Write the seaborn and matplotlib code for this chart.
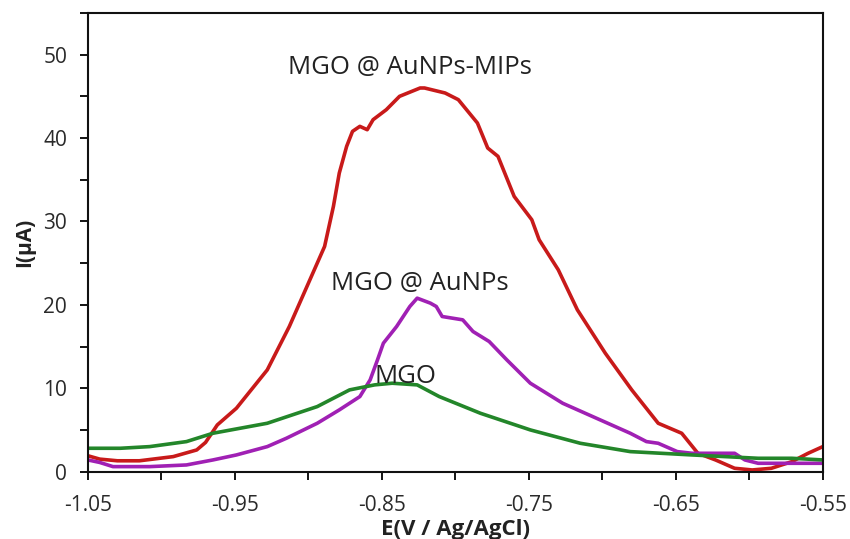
import numpy as np
import pandas as pd
import matplotlib
matplotlib.use("Agg")
import matplotlib.pyplot as plt
from matplotlib.ticker import MultipleLocator, FixedLocator
import seaborn as sns

# Differential pulse voltammograms: potential (V vs Ag/AgCl) and current (µA)
e_mips = [-1.050, -1.042, -1.030, -1.015, -0.992, -0.976, -0.970, -0.962, -0.949,
          -0.928, -0.913, -0.896, -0.889, -0.883, -0.879, -0.874, -0.870, -0.865,
          -0.860, -0.856, -0.847, -0.838, -0.824, -0.821, -0.807, -0.798, -0.785,
          -0.778, -0.771, -0.760, -0.748, -0.743, -0.730, -0.717, -0.698, -0.680,
          -0.662, -0.646, -0.635, -0.623, -0.610, -0.598, -0.585, -0.571, -0.560,
          -0.550]
i_mips = [1.9, 1.5, 1.3, 1.3, 1.8, 2.6, 3.5, 5.6, 7.6,
          12.2, 17.4, 24.2, 27.0, 31.8, 35.8, 39.0, 40.8, 41.4,
          41.0, 42.2, 43.4, 45.0, 46.0, 46.0, 45.4, 44.6, 41.8,
          38.8, 37.8, 33.0, 30.2, 27.8, 24.2, 19.4, 14.2, 9.8,
          5.8, 4.6, 2.2, 1.4, 0.4, 0.2, 0.4, 1.2, 2.2,
          3.0]

e_aunps = [-1.050, -1.042, -1.033, -1.008, -0.983, -0.965, -0.949, -0.928, -0.915,
           -0.894, -0.879, -0.865, -0.858, -0.853, -0.849, -0.840, -0.831, -0.826,
           -0.817, -0.813, -0.809, -0.795, -0.788, -0.777, -0.765, -0.749, -0.727,
           -0.704, -0.681, -0.670, -0.662, -0.649, -0.639, -0.610, -0.603, -0.594,
           -0.550]
i_aunps = [1.4, 1.1, 0.6, 0.6, 0.8, 1.4, 2.0, 3.0, 4.0,
           5.8, 7.4, 9.0, 11.0, 13.4, 15.4, 17.4, 19.8, 20.8,
           20.2, 19.8, 18.6, 18.2, 16.8, 15.6, 13.4, 10.6, 8.2,
           6.4, 4.6, 3.6, 3.4, 2.4, 2.2, 2.2, 1.4, 1.0,
           1.0]

e_mgo = [-1.050, -1.028, -1.008, -0.983, -0.965, -0.928, -0.894, -0.872, -0.855,
         -0.843, -0.826, -0.811, -0.783, -0.749, -0.715, -0.681, -0.639, -0.594,
         -0.571, -0.550]
i_mgo = [2.8, 2.8, 3.0, 3.6, 4.6, 5.8, 7.8, 9.8, 10.4,
         10.6, 10.4, 9.0, 7.0, 5.0, 3.4, 2.4, 2.0, 1.6,
         1.6, 1.4]

series_names = ["MGO @ AuNPs-MIPs", "MGO @ AuNPs", "MGO"]
series_colors = ["#c81a1a", "#a020b4", "#23862a"]

x_ticks = [-1.05, -0.95, -0.85, -0.75, -0.65, -0.55]
x_tick_labels = ["-1.05", "-0.95", "-0.85", "-0.75", "-0.65", "-0.55"]
y_ticks = [0, 10, 20, 30, 40, 50]

df = pd.concat([
    pd.DataFrame({"E": e_mips, "I": i_mips, "electrode": series_names[0]}),
    pd.DataFrame({"E": e_aunps, "I": i_aunps, "electrode": series_names[1]}),
    pd.DataFrame({"E": e_mgo, "I": i_mgo, "electrode": series_names[2]}),
], ignore_index=True)

sns.set_theme(style="ticks")
plt.rcParams["font.family"] = ["Open Sans", "DejaVu Sans"]

fig = plt.figure(figsize=(8.5, 5.39), dpi=100)
ax = fig.add_axes([0.1035, 0.125, 0.8645, 0.851])

sns.lineplot(data=df, x="E", y="I", hue="electrode", hue_order=series_names,
             palette=series_colors, sort=False, estimator=None, linewidth=2.6,
             legend=False, ax=ax)

ax.set_xlim(-1.05, -0.55)
ax.set_ylim(0, 55)
ax.xaxis.set_major_locator(FixedLocator(x_ticks))
ax.set_xticklabels(x_tick_labels)
ax.xaxis.set_minor_locator(MultipleLocator(0.05))
ax.yaxis.set_major_locator(FixedLocator(y_ticks))
ax.yaxis.set_minor_locator(MultipleLocator(5))

ax.tick_params(axis="both", which="both", direction="out", length=6, width=1.3,
               color="black", labelsize=15, labelcolor="#2a2a2a")
ax.tick_params(axis="y", which="major", pad=9)
ax.tick_params(axis="x", which="major", pad=11)
for side in ["left", "right", "top", "bottom"]:
    ax.spines[side].set_visible(True)
    ax.spines[side].set_color("#111111")
    ax.spines[side].set_linewidth(1.5)

ax.set_xlabel("E(V / Ag/AgCl)", fontsize=16, fontweight="bold", labelpad=2, color="#222222")
ax.set_ylabel("I(µA)", fontsize=15, fontweight="bold", labelpad=6, color="#222222")

# Curve labels
label_pos = [(-0.831, 48.5), (-0.824, 22.6), (-0.834, 11.4)]
for name, (ex, iy) in zip(series_names, label_pos):
    ax.text(ex, iy, name, ha="center", va="center", fontsize=18.5, color="#222222")

fig.savefig("out.png", dpi=100)
